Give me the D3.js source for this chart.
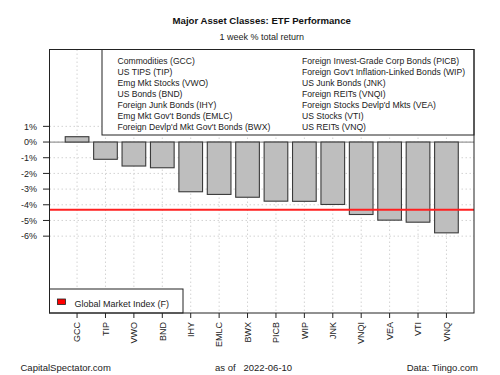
<!DOCTYPE html>
<html><head><meta charset="utf-8">
<script src="https://cdn.jsdelivr.net/npm/d3@7"></script>
<style>body{margin:0;background:#fff}svg{display:block;font-family:"Liberation Sans",Arial,sans-serif}</style>
</head><body><svg id="c" width="500" height="375"></svg>
<script>
const tickers = ["GCC","TIP","VWO","BND","IHY","EMLC","BWX","PICB","WIP","JNK","VNQI","VEA","VTI","VNQ"];
const returns = [0.34,-1.10,-1.53,-1.64,-3.17,-3.34,-3.52,-3.77,-3.78,-3.98,-4.62,-4.98,-5.11,-5.79];
const globalIndex = -4.32;
const legendCol1 = ["Commodities (GCC)","US TIPS (TIP)","Emg Mkt Stocks (VWO)","US Bonds (BND)","Foreign Junk Bonds (IHY)","Emg Mkt Gov't Bonds (EMLC)","Foreign Devlp'd Mkt Gov't Bonds (BWX)"];
const legendCol2 = ["Foreign Invest-Grade Corp Bonds (PICB)","Foreign Gov't Inflation-Linked Bonds (WIP)","US Junk Bonds (JNK)","Foreign REITs (VNQI)","Foreign Stocks Devlp'd Mkts (VEA)","US Stocks (VTI)","US REITs (VNQ)"];
const yTicks = [1,0,-1,-2,-3,-4,-5,-6];

const svg = d3.select("#c");
const L=49.5, R=474, T=49.5, B=313;
const n = tickers.length;
// barplot geometry: bar width 1, space 0.2, 4% axis extension
const lo=0.2, hi=1.2*n, ext=0.04*(hi-lo);
const x = d3.scaleLinear().domain([lo-ext, hi+ext]).range([L,R]);
const cx = i => x(0.7+1.2*i);
const y = d3.scaleLinear().domain([5.9,-10.9]).range([T,B]);

// grid
const g = svg.append("g");
g.selectAll(".hg").data(yTicks).join("line")
  .attr("x1",L).attr("x2",R).attr("y1",d=>y(d)).attr("y2",d=>y(d))
  .attr("stroke","#d3d3d3").attr("stroke-dasharray","1.5,2.5");
g.selectAll(".vg").data(tickers).join("line")
  .attr("x1",(d,i)=>cx(i)).attr("x2",(d,i)=>cx(i)).attr("y1",T).attr("y2",B)
  .attr("stroke","#d3d3d3").attr("stroke-dasharray","1.5,2.5");

// zero line
svg.append("line").attr("x1",L).attr("x2",R).attr("y1",y(0)).attr("y2",y(0))
  .attr("stroke","#999").attr("stroke-width",1.2);

// bars
svg.selectAll(".bar").data(returns).join("rect")
  .attr("x",(d,i)=>x(0.2+1.2*i)).attr("width",x(1)-x(0))
  .attr("y",d=>y(Math.max(0,d))).attr("height",d=>Math.abs(y(d)-y(0)))
  .attr("fill","#bebebe").attr("stroke","#3a3a3a").attr("stroke-width",1.1);

// red line
svg.append("line").attr("x1",L).attr("x2",R).attr("y1",y(globalIndex)).attr("y2",y(globalIndex))
  .attr("stroke","#ff2020").attr("stroke-width",2);

// top legend
svg.append("rect").attr("x",102).attr("y",T).attr("width",R-102).attr("height",135-T)
  .attr("fill","#fff").attr("stroke","#222").attr("stroke-width",1);
const lt = svg.append("g").attr("font-size",8.6).attr("fill","#222");
lt.selectAll(".a").data(legendCol1).join("text").attr("x",117.5).attr("y",(d,i)=>64.3+i*10.9).text(d=>d);
lt.selectAll(".b").data(legendCol2).join("text").attr("x",302).attr("y",(d,i)=>64.3+i*10.9).text(d=>d);

// bottom legend
svg.append("rect").attr("x",L).attr("y",289).attr("width",183-L).attr("height",B-289)
  .attr("fill","#fff").attr("stroke","#222").attr("stroke-width",1);
svg.append("rect").attr("x",57.5).attr("y",299).attr("width",8).attr("height",5.5)
  .attr("fill","#ff0000").attr("stroke","#222").attr("stroke-width",0.8);
svg.append("text").attr("x",74.5).attr("y",306.5).attr("font-size",9).attr("fill","#222").text("Global Market Index (F)");

// plot box
svg.append("rect").attr("x",L).attr("y",T).attr("width",R-L).attr("height",B-T)
  .attr("fill","none").attr("stroke","#222").attr("stroke-width",1);

// y axis
const ya = svg.append("g");
ya.selectAll("line").data(yTicks).join("line")
  .attr("x1",43).attr("x2",L).attr("y1",d=>y(d)).attr("y2",d=>y(d)).attr("stroke","#222");
ya.selectAll("text").data(yTicks).join("text")
  .attr("x",37).attr("y",d=>y(d)+3.3).attr("text-anchor","end").attr("font-size",9).attr("fill","#222")
  .text(d=>d+"%");

// x axis
const xa = svg.append("g");
xa.selectAll("line").data(tickers).join("line")
  .attr("x1",(d,i)=>cx(i)).attr("x2",(d,i)=>cx(i)).attr("y1",B).attr("y2",B+5).attr("stroke","#222");
xa.selectAll("text").data(tickers).join("text")
  .attr("transform",(d,i)=>`translate(${cx(i)+3.2},${B+9}) rotate(-90)`)
  .attr("text-anchor","end").attr("font-size",9).attr("fill","#222").text(d=>d);

// titles
svg.append("text").attr("x",(L+R)/2).attr("y",23.5).attr("text-anchor","middle")
  .attr("font-size",9.6).attr("font-weight","bold").attr("fill","#111").text("Major Asset Classes: ETF Performance");
svg.append("text").attr("x",(L+R)/2).attr("y",40).attr("text-anchor","middle")
  .attr("font-size",9).attr("fill","#222").text("1 week % total return");

// footer
svg.append("text").attr("x",20.5).attr("y",370.5).attr("font-size",9.5).attr("fill","#222").text("CapitalSpectator.com");
svg.append("text").attr("x",215).attr("y",370.5).attr("font-size",9.5).attr("fill","#222").attr("xml:space","preserve").text("as of   2022-06-10");
svg.append("text").attr("x",478).attr("y",370.5).attr("text-anchor","end").attr("font-size",9.5).attr("fill","#222").text("Data: Tiingo.com");
</script></body></html>
